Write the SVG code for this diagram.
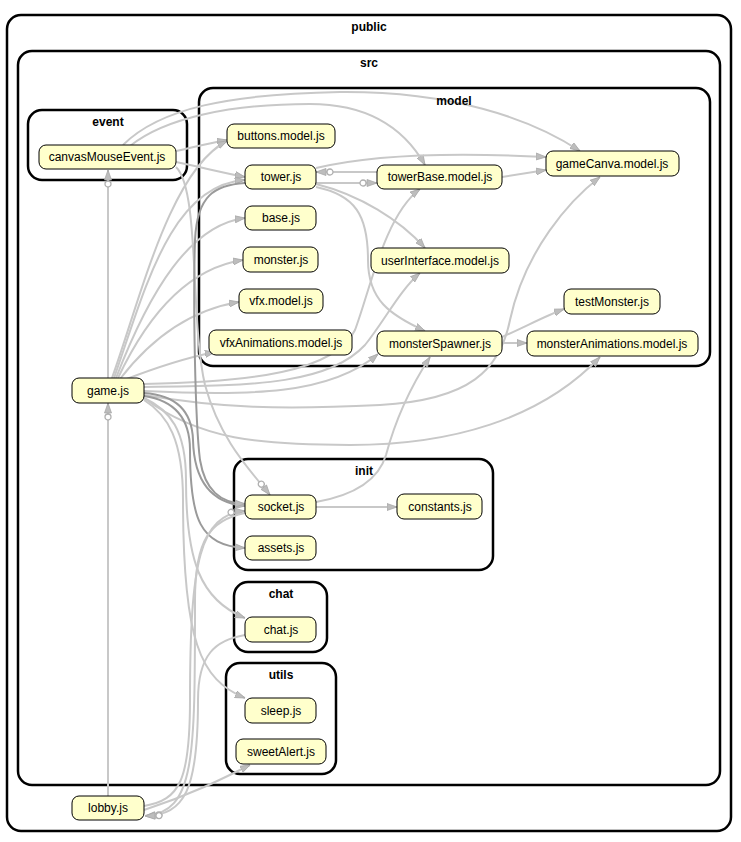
<svg xmlns="http://www.w3.org/2000/svg" width="741" height="842" viewBox="0 0 741 842">
<defs>
<style>
.cl{fill:none;stroke:#000;stroke-width:2.5}
.cll{font-family:"Liberation Sans",Arial,sans-serif;font-size:12px;font-weight:bold;text-anchor:middle;fill:#000}
.nd rect{fill:#ffffcc;stroke:#000;stroke-width:1}
.nd text{font-family:"Liberation Sans",Arial,sans-serif;font-size:12px;text-anchor:middle;fill:#000}
.e{fill:none;stroke:#c8c8c8;stroke-width:2;marker-end:url(#ar)}
.o{marker-end:url(#ao)}
.d{stroke:#9a9a9a}
</style>
<marker id="ar" viewBox="0 0 10 8" refX="10" refY="4" markerWidth="10" markerHeight="8" markerUnits="userSpaceOnUse" orient="auto"><path d="M0,0.5 L10,4 L0,7.5 z" fill="#bdbdbd" stroke="#a8a8a8" stroke-width="0.8"/></marker>
<marker id="ao" viewBox="0 0 18 8" refX="18" refY="4" markerWidth="18" markerHeight="8" markerUnits="userSpaceOnUse" orient="auto"><circle cx="4" cy="4" r="3" fill="#fff" stroke="#b0b0b0" stroke-width="1.3"/><path d="M8,0.5 L18,4 L8,7.5 z" fill="#bdbdbd" stroke="#a8a8a8" stroke-width="0.8"/></marker>
</defs>
<rect width="741" height="842" fill="#fff"/>
<g id="clusters">
<rect class="cl" x="7" y="15" width="724" height="816" rx="14"/>
<rect class="cl" x="18" y="51" width="702" height="734" rx="14"/>
<rect class="cl" x="28" y="110" width="159" height="70" rx="14"/>
<rect class="cl" x="199" y="88" width="511" height="278" rx="14"/>
<rect class="cl" x="234" y="459" width="259" height="111" rx="14"/>
<rect class="cl" x="234" y="582" width="93" height="70" rx="14"/>
<rect class="cl" x="226" y="663" width="110" height="111" rx="14"/>
</g>
<g id="edges">
<path class="e" d="M176,151 C195,147 205,144 227,140"/>
<path class="e" d="M176,162 C200,167 220,172 245,177"/>
<path class="e" d="M123,145 C160,108 230,94 340,92 C450,91 530,118 580,151"/>
<path class="e" d="M130,146 C165,118 230,104 310,104 C370,104 405,130 425,165"/>
<path class="e o" d="M176,167 C200,190 190,320 205,385 C220,440 250,470 270,495"/>
<path class="e o" d="M108,378 L108,170"/>
<path class="e" d="M112,378 C140,300 170,170 227,141"/>
<path class="e" d="M114,378 C145,290 170,185 245,180"/>
<path class="e" d="M116,378 C150,290 190,225 245,218"/>
<path class="e" d="M118,378 C150,310 190,268 243,260"/>
<path class="e" d="M120,379 C150,340 190,310 239,302"/>
<path class="e" d="M124,380 C160,366 190,357 215,352"/>
<path class="e" d="M144,384 C250,382 335,372 355,330 C370,290 385,215 420,189"/>
<path class="e" d="M144,387 C260,386 330,383 365,345 C385,320 400,290 420,273"/>
<path class="e" d="M144,391 C250,396 330,395 378,354"/>
<path class="e" d="M144,395 C220,408 280,410 380,405 C470,400 500,370 510,320 C525,250 570,200 600,177"/>
<path class="e" d="M144,398 C200,440 260,445 350,445 C450,445 540,420 600,357"/>
<path class="e d" d="M144,393 C175,395 192,410 193,440 C194,480 210,503 245,506"/>
<path class="e d" d="M144,396 C172,400 190,415 190,450 C190,520 200,545 245,548"/>
<path class="e" d="M144,398 C170,410 186,430 186,480 C186,560 200,600 245,618"/>
<path class="e" d="M144,400 C168,415 183,440 183,500 C183,640 200,680 245,698"/>
<path class="e o" d="M316,183 L377,183"/>
<path class="e o" d="M377,172 L316,172"/>
<path class="e" d="M316,168 C370,155 450,152 546,157"/>
<path class="e" d="M316,184 C360,195 400,220 425,248"/>
<path class="e" d="M316,187 C355,195 368,215 368,260 C368,300 390,315 425,331"/>
<path class="e d" d="M245,183 C215,185 197,195 195,240 C193,300 195,420 200,460 C205,490 220,503 245,504"/>
<path class="e" d="M502,177 L546,170"/>
<path class="e" d="M502,337 C525,327 545,316 564,309"/>
<path class="e" d="M502,343 L527,343"/>
<path class="e" d="M316,507 L397,507"/>
<path class="e" d="M316,502 C350,496 378,482 386,455 C398,410 415,380 430,357"/>
<path class="e o" d="M108,796 L108,403"/>
<path class="e o" d="M144,806 C180,800 190,780 190,700 C190,560 200,515 245,511"/>
<path class="e" d="M144,810 C190,795 220,780 250,765"/>
<path class="e o" d="M245,513 C210,520 195,540 195,600 C195,760 195,812 145,816"/>
<path class="e o" d="M245,635 C215,640 198,655 198,700 C198,790 185,815 145,816"/>
</g>
<g id="cluster-labels">
<text class="cll" x="369" y="31">public</text>
<text class="cll" x="369" y="67">src</text>
<text class="cll" x="108" y="126">event</text>
<text class="cll" x="454" y="105">model</text>
<text class="cll" x="364" y="475">init</text>
<text class="cll" x="281" y="598">chat</text>
<text class="cll" x="281" y="679">utils</text>
</g>
<g id="canvasMouseEvent" class="nd"><rect x="39" y="145" width="137" height="24" rx="7"/><text x="107" y="161">canvasMouseEvent.js</text></g>
<g id="buttons" class="nd"><rect x="227" y="124" width="108" height="24" rx="7"/><text x="281" y="140">buttons.model.js</text></g>
<g id="tower" class="nd"><rect x="245" y="165" width="71" height="24" rx="7"/><text x="281" y="181">tower.js</text></g>
<g id="base" class="nd"><rect x="245" y="206" width="71" height="24" rx="7"/><text x="281" y="222">base.js</text></g>
<g id="monster" class="nd"><rect x="243" y="247" width="75" height="25" rx="7"/><text x="281" y="264">monster.js</text></g>
<g id="vfx" class="nd"><rect x="239" y="289" width="84" height="24" rx="7"/><text x="281" y="305">vfx.model.js</text></g>
<g id="vfxAnimations" class="nd"><rect x="209" y="330" width="143" height="25" rx="7"/><text x="281" y="347">vfxAnimations.model.js</text></g>
<g id="towerBase" class="nd"><rect x="377" y="165" width="125" height="24" rx="7"/><text x="440" y="181">towerBase.model.js</text></g>
<g id="gameCanva" class="nd"><rect x="546" y="151" width="133" height="25" rx="7"/><text x="612" y="168">gameCanva.model.js</text></g>
<g id="userInterface" class="nd"><rect x="371" y="248" width="138" height="25" rx="7"/><text x="440" y="265">userInterface.model.js</text></g>
<g id="testMonster" class="nd"><rect x="564" y="289" width="96" height="25" rx="7"/><text x="612" y="306">testMonster.js</text></g>
<g id="monsterSpawner" class="nd"><rect x="377" y="331" width="125" height="25" rx="7"/><text x="440" y="348">monsterSpawner.js</text></g>
<g id="monsterAnimations" class="nd"><rect x="527" y="331" width="171" height="25" rx="7"/><text x="612" y="348">monsterAnimations.model.js</text></g>
<g id="game" class="nd"><rect x="72" y="378" width="72" height="25" rx="7"/><text x="108" y="395">game.js</text></g>
<g id="socket" class="nd"><rect x="245" y="495" width="71" height="24" rx="7"/><text x="281" y="511">socket.js</text></g>
<g id="assets" class="nd"><rect x="245" y="536" width="71" height="24" rx="7"/><text x="281" y="552">assets.js</text></g>
<g id="constants" class="nd"><rect x="397" y="494" width="85" height="25" rx="7"/><text x="440" y="511">constants.js</text></g>
<g id="chat" class="nd"><rect x="245" y="617" width="71" height="25" rx="7"/><text x="281" y="634">chat.js</text></g>
<g id="sleep" class="nd"><rect x="245" y="698" width="71" height="25" rx="7"/><text x="281" y="715">sleep.js</text></g>
<g id="sweetAlert" class="nd"><rect x="236" y="739" width="90" height="25" rx="7"/><text x="281" y="756">sweetAlert.js</text></g>
<g id="lobby" class="nd"><rect x="72" y="796" width="72" height="24" rx="7"/><text x="108" y="812">lobby.js</text></g>
</svg>
